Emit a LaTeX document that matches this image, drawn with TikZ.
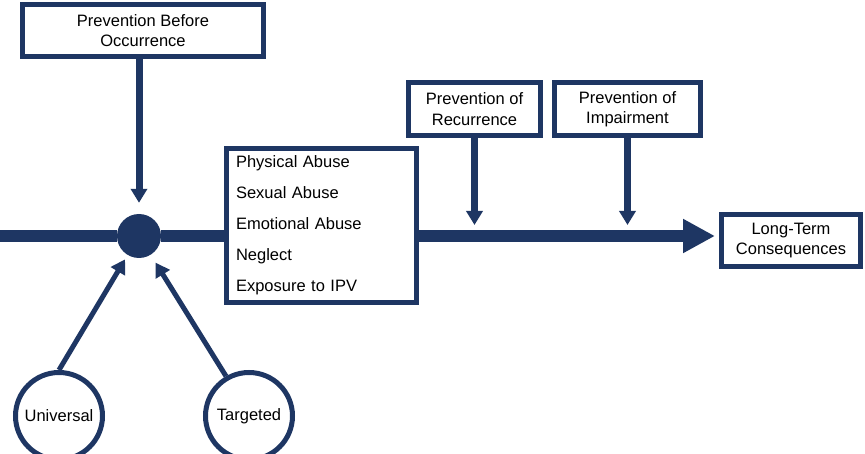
\documentclass[tikz,border=0pt]{standalone}
\usepackage{fontspec}
\setmainfont{Liberation Sans}
\usetikzlibrary{arrows.meta, positioning, calc}
\definecolor{navy}{RGB}{30,54,99}

\begin{document}
\begin{tikzpicture}[
    x=1pt, y=1pt,
    box/.style={rectangle, draw=navy, line width=5pt, inner sep=0pt, text centered, align=center, font=\fontsize{16.5}{20.5}\selectfont},
    group/.style={circle, draw=navy, line width=5pt, inner sep=0pt, minimum size=87pt, font=\fontsize{16.5}{20}\selectfont},
    timeline/.style={navy, line width=12pt},
    arrow/.style={navy, line width=7pt, -{Triangle[length=14pt, width=16pt]}},
    thinarrow/.style={navy, line width=5pt, -{Triangle[length=14pt, width=16pt]}}
]
\useasboundingbox (0,0) rectangle (865,-454);

% Onset of maltreatment
\node[circle, fill=navy, minimum size=44pt, inner sep=0pt] (hub) at (139,-236) {};
\coordinate (start) at (0,-236);

% Forms of maltreatment
\node[box, minimum width=190pt, minimum height=154pt, text width=171pt, align=left, font=\fontsize{16.5}{31}\selectfont] (abuse) at (321.5,-225.5) {Physical Abuse\\Sexual Abuse\\Emotional Abuse\\Neglect\\Exposure to IPV};

% Outcome
\node[box, minimum width=139pt, minimum height=52pt] (ltc) at (791,-240.5) {Long-Term\\Consequences};

% Prevention stages
\node[box, minimum width=241pt, minimum height=52pt] (pbo) at (143,-30.5) {Prevention Before\\Occurrence};
\node[box, minimum width=132pt, minimum height=53pt] (por) at (474.5,-109) {Prevention of\\Recurrence};
\node[box, minimum width=146pt, minimum height=53pt, right=9pt of por] (pim) {Prevention of\\Impairment};

% Approaches
\node[group] (univ) at (59,-416) {Universal};
\node[group] (targ) at (249,-416) {Targeted};

% Timeline
\draw[timeline] (start) -- (hub);
\draw[timeline] (hub) -- (hub -| abuse.west);
\draw[timeline, -{Triangle[length=32pt, width=32pt]}, shorten >=4pt] (abuse.east |- hub) -- (ltc.west |- hub);

% Prevention arrows
\coordinate (recur) at (por.south |- hub);
\coordinate (impair) at (pim.south |- hub);
\draw[arrow, shorten >=11pt] (pbo.south -| hub) -- (hub);
\draw[arrow, shorten >=11pt] (por) -- (recur);
\draw[arrow, shorten >=11pt] (pim) -- (impair);

% Approach arrows
\draw[thinarrow, shorten >=5pt] (univ.north) -- (hub);
\draw[thinarrow, shorten >=9pt] (targ.120) -- (hub);

\end{tikzpicture}
\end{document}
